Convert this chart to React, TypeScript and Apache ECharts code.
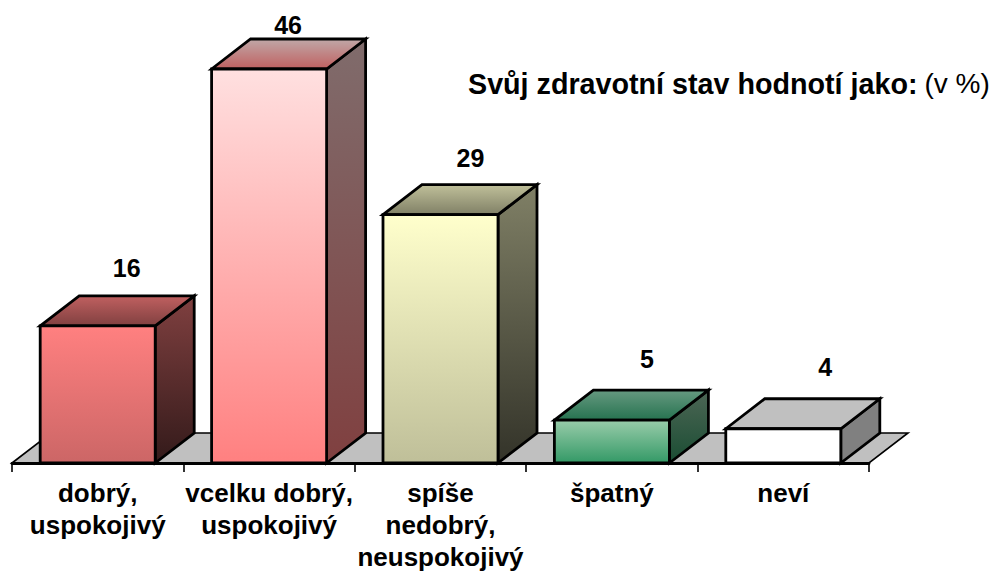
import React, { useEffect, useRef } from "react";
import * as echarts from "echarts";

const categories = ["dobrý,\nuspokojivý", "vcelku dobrý,\nuspokojivý", "spíše\nnedobrý,\nneuspokojivý", "špatný", "neví"];
const values = [16, 46, 29, 5, 4];
const titleBold = "Svůj zdravotní stav hodnotí jako:";
const titleUnit = "(v %)";
const frontColors = [["#ff8080", "#cc6666"], ["#ffe0e0", "#ff8080"], ["#ffffcc", "#bfbf99"], ["#99ccaa", "#339966"], ["#ffffff", "#ffffff"]];
const sideColors = [["#804040", "#331a1a"], ["#806c6c", "#804040"], ["#808066", "#333329"], ["#4d6655", "#1a4d33"], ["#808080", "#808080"]];
const topColors = [["#c06060", "#804040"], ["#c0a8a8", "#c06060"], ["#c0c09a", "#808066"], ["#669980", "#267350"], ["#c0c0c0", "#c0c0c0"]];
const labelShift = [[29, -28], [19, -14], [30, -27], [35, -31], [42, -32]];

const FONT = "Liberation Sans";
const DX = 39;
const DY = 30;

function grad(c: string[]) {
  return new echarts.graphic.LinearGradient(0, 0, 0, 1, [
    { offset: 0, color: c[0] },
    { offset: 1, color: c[1] },
  ]);
}

function renderBar(params: any, api: any) {
  const i = api.value(0);
  const v = api.value(1);
  const [cx, yTop] = api.coord([i, v]);
  const [, yBase] = api.coord([i, 0]);
  const w = api.size([1, 0])[0] * 0.671;
  const l = cx - w / 2;
  const r = cx + w / 2;
  const line = { stroke: "#000", lineWidth: 2.8, lineJoin: "miter" };
  return {
    type: "group",
    children: [
      {
        type: "polygon",
        shape: { points: [[r, yTop], [r + DX, yTop - DY], [r + DX, yBase - DY], [r, yBase]] },
        style: { fill: grad(sideColors[i]), ...line },
      },
      {
        type: "polygon",
        shape: { points: [[l, yTop], [l + DX, yTop - DY], [r + DX, yTop - DY], [r, yTop]] },
        style: { fill: grad(topColors[i]), ...line },
      },
      {
        type: "rect",
        shape: { x: l, y: yTop, width: w, height: yBase - yTop },
        style: { fill: grad(frontColors[i]), ...line },
      },
      {
        type: "text",
        style: {
          x: cx + labelShift[i][0],
          y: yTop - DY + labelShift[i][1],
          text: String(v),
          font: `bold 25px "${FONT}"`,
          fill: "#000",
          textAlign: "center",
          textVerticalAlign: "middle",
        },
      },
    ],
  };
}

function renderFloor(params: any, api: any) {
  const { x, y, width, height } = params.coordSys;
  const b = y + height;
  return {
    type: "polygon",
    shape: { points: [[x, b], [x + DX, b - DY], [x + width + DX, b - DY], [x + width, b]] },
    style: { fill: "#c0c0c0", stroke: "#000", lineWidth: 1.6 },
  };
}

export default function App() {
  const ref = useRef<HTMLDivElement>(null);
  useEffect(() => {
    const chart = echarts.init(ref.current!, null, { renderer: "svg" });
    chart.setOption({
      animation: false,
      backgroundColor: "#fff",
      textStyle: { fontFamily: FONT },
      title: {
        left: 468,
        top: 69,
        padding: 0,
        text: `{b|${titleBold}} {n|${titleUnit}}`,
        textStyle: {
          rich: {
            b: { fontFamily: FONT, fontWeight: "bold", fontSize: 28.7, color: "#000" },
            n: { fontFamily: FONT, fontWeight: "normal", fontSize: 28, color: "#000", padding: [0, 0, 0, 2] },
          },
        },
      },
      grid: { left: 12, right: 125, top: 69, bottom: 108, outerBoundsMode: "none" },
      xAxis: {
        type: "category",
        data: categories,
        z: 3,
        axisLine: { lineStyle: { color: "#000", width: 2.8 } },
        axisTick: { show: true, length: 9, lineStyle: { color: "#000", width: 1.6 } },
        axisLabel: {
          color: "#000",
          fontFamily: FONT,
          fontWeight: "bold",
          fontSize: 26,
          lineHeight: 32,
          margin: 14,
          interval: 0,
          hideOverlap: false,
        },
      },
      yAxis: { type: "value", min: 0, max: 46, show: false },
      series: [
        { type: "custom", z: 1, data: [[0]], renderItem: renderFloor, silent: true },
        {
          type: "custom",
          z: 2,
          data: values.map((v, i) => [i, v]),
          encode: { x: 0, y: 1 },
          renderItem: renderBar,
          clip: false,
        },
      ],
    });
    return () => chart.dispose();
  }, []);
  return <div ref={ref} style={{ position: "absolute", left: 0, top: 0, width: 994, height: 571 }} />;
}
